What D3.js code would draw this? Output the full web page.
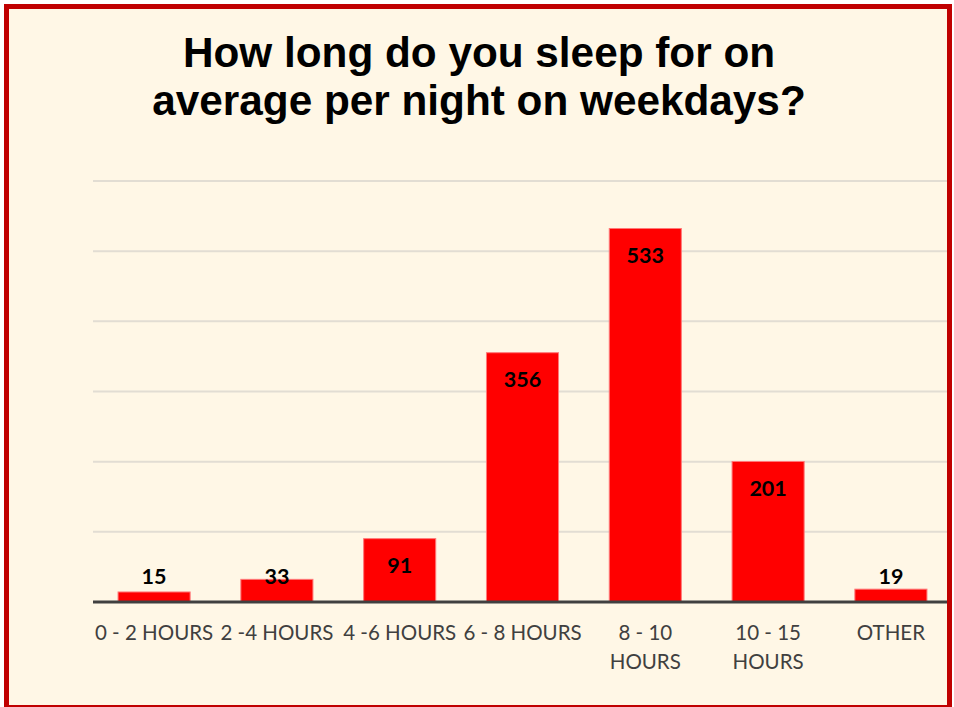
<!DOCTYPE html>
<html>
<head>
<meta charset="utf-8">
<script src="https://cdn.jsdelivr.net/npm/d3@7"></script>
<style>
  html, body { margin: 0; padding: 0; background: #ffffff; }
  svg { display: block; }
</style>
</head>
<body>
<script>
const categories = ["0 - 2 HOURS", "2 -4 HOURS", "4 -6 HOURS", "6 - 8 HOURS", "8 - 10 HOURS", "10 - 15 HOURS", "OTHER"];
const values = [15, 33, 91, 356, 533, 201, 19];
const yTicks = [0, 100, 200, 300, 400, 500, 600];
const titleLines = ["How long do you sleep for on", "average per night on weekdays?"];

const W = 954, H = 707;
const svg = d3.select("body").append("svg").attr("width", W).attr("height", H);

// panel background + border
svg.append("rect").attr("x", 6.5).attr("y", 6.5).attr("width", 943).attr("height", 701)
  .attr("fill", "#FFF7E6").attr("stroke", "#C00000").attr("stroke-width", 5);

const margin = { left: 93, right: 2, top: 181, bottom: 105 };
const x = d3.scaleBand().domain(categories).range([margin.left, W - margin.right]).paddingInner(0.405).paddingOuter(0.2);
const y = d3.scaleLinear().domain([0, 600]).range([H - margin.bottom, margin.top]);

svg.append("clipPath").attr("id", "clip").append("rect")
  .attr("x", 9).attr("y", 9).attr("width", 938).attr("height", 696);

const g = svg.append("g").attr("clip-path", "url(#clip)");

// gridlines
g.append("g").selectAll("line").data(yTicks.slice(1)).join("line")
  .attr("x1", margin.left).attr("x2", W)
  .attr("y1", d => y(d)).attr("y2", d => y(d))
  .attr("stroke", "#E2DDD3").attr("stroke-width", 2);

// bars
g.append("g").selectAll("rect").data(values).join("rect")
  .attr("x", (d, i) => x(categories[i]) + 0.5)
  .attr("y", d => y(d) + 0.5)
  .attr("width", x.bandwidth() - 1)
  .attr("height", d => y(0) - y(d) - 0.5)
  .attr("fill", "#FF0000").attr("stroke", "#FF7878").attr("stroke-width", 1);

// axis line
g.append("line").attr("x1", margin.left).attr("x2", W).attr("y1", y(0)).attr("y2", y(0))
  .attr("stroke", "#404040").attr("stroke-width", 3);

// value labels
g.append("g").selectAll("text").data(values).join("text")
  .attr("x", (d, i) => x(categories[i]) + x.bandwidth() / 2)
  .attr("y", d => Math.min(y(d) + 35, y(0) - 18))
  .attr("text-anchor", "middle")
  .attr("font-family", "Lato, 'Open Sans', sans-serif")
  .attr("font-weight", "bold").attr("font-size", 21.5).attr("fill", "#000")
  .text(d => d);

// category labels (wrapped)
const xa = g.append("g").attr("font-family", "Lato, 'Open Sans', sans-serif")
  .attr("font-size", 20.5).attr("fill", "#404040");
categories.forEach((c, i) => {
  const cx = x(c) + x.bandwidth() / 2;
  const t = xa.append("text").attr("x", cx).attr("y", y(0) + 38).attr("text-anchor", "middle").text(c);
  if (t.node().getComputedTextLength() > x.step()) {
    const words = c.split(" ");
    const first = words.slice(0, -1).join(" ");
    const last = words[words.length - 1];
    t.text(null);
    t.append("tspan").attr("x", cx).attr("dy", 0).text(first);
    t.append("tspan").attr("x", cx).attr("dy", 29).text(last);
  }
});

// title
svg.append("text").attr("x", 479).attr("y", 67).attr("text-anchor", "middle")
  .attr("font-family", "'Liberation Sans', Arial, sans-serif").attr("font-weight", "bold")
  .attr("font-size", 42.3).attr("fill", "#000")
  .selectAll("tspan").data(titleLines).join("tspan")
  .attr("x", 479).attr("dy", (d, i) => i === 0 ? 0 : 48).text(d => d);
</script>
</body>
</html>
